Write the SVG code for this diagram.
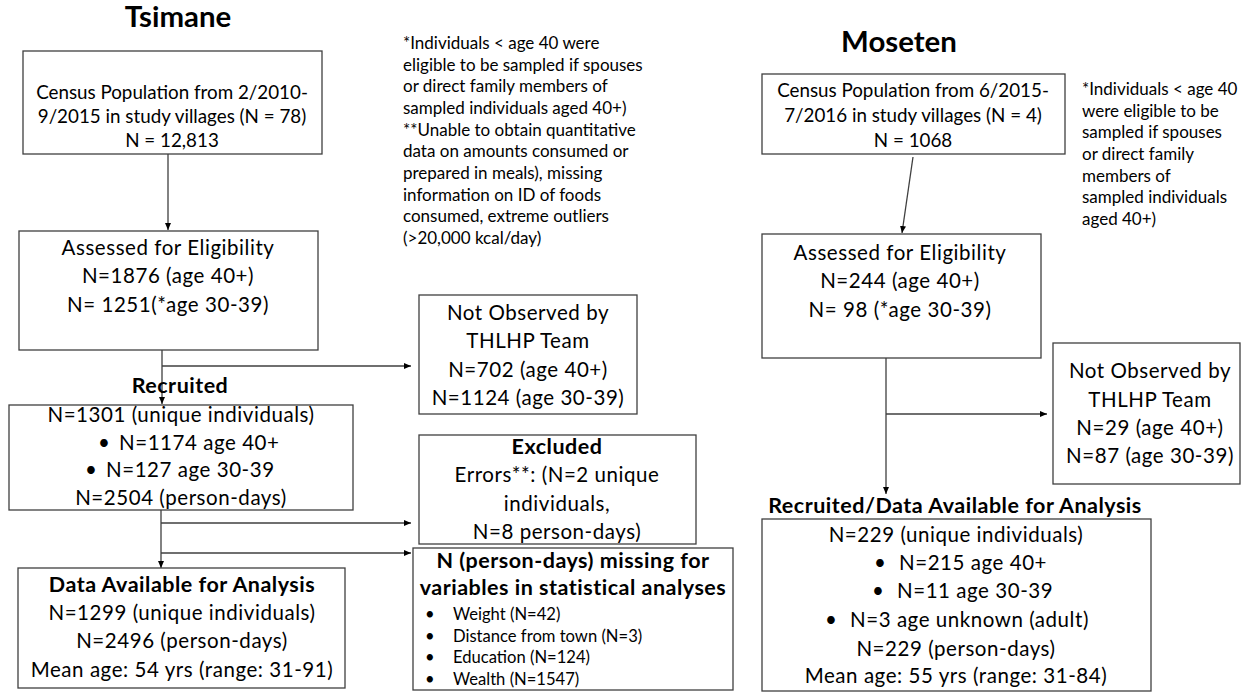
<svg xmlns="http://www.w3.org/2000/svg" width="1243" height="692" viewBox="0 0 1243 692">
<style>
.box{fill:#fff;stroke:#3f3f3f;stroke-width:1.3}
.t{font-family:Lato,"Liberation Sans",sans-serif;font-size:20.5px;letter-spacing:0.55px;fill:#000;text-anchor:middle}
.cs{font-family:Lato,"Liberation Sans",sans-serif;font-size:18.8px;fill:#000;text-anchor:middle}
.b{font-weight:bold;font-size:21.5px;letter-spacing:0.5px}
.st{text-anchor:start}
.h{font-family:Lato,"Liberation Sans",sans-serif;font-size:29.4px;font-weight:bold;fill:#000;text-anchor:middle}
.n{font-family:Lato,"Liberation Sans",sans-serif;font-size:17px;fill:#000}
.s{font-family:Lato,"Liberation Sans",sans-serif;font-size:16.6px;fill:#000}
.c{fill:none;stroke:#3f3f3f;stroke-width:1.3}
</style>
<defs>
<marker id="ah" markerWidth="8" markerHeight="8" refX="7" refY="4" orient="auto" markerUnits="userSpaceOnUse">
<path d="M0,1 L7,4 L0,7 Z" fill="#000"/>
</marker>
</defs>
<rect width="1243" height="692" fill="#fff"/>

<text class="h" x="178" y="27">Tsimane</text>
<text class="h" x="899" y="52">Moseten</text>

<g id="notes-left">
<text class="n" x="403" y="49">*Individuals &lt; age 40 were</text>
<text class="n" x="403" y="71">eligible to be sampled if spouses</text>
<text class="n" x="403" y="92">or direct family members of</text>
<text class="n" x="403" y="114">sampled individuals aged 40+)</text>
<text class="n" x="403" y="136">**Unable to obtain quantitative</text>
<text class="n" x="403" y="157">data on amounts consumed or</text>
<text class="n" x="403" y="179">prepared in meals), missing</text>
<text class="n" x="403" y="201">information on ID of foods</text>
<text class="n" x="403" y="222">consumed, extreme outliers</text>
<text class="n" x="403" y="244">(&gt;20,000 kcal/day)</text>
</g>

<g id="notes-right">
<text class="n" x="1082" y="95">*Individuals &lt; age 40</text>
<text class="n" x="1082" y="117">were eligible to be</text>
<text class="n" x="1082" y="138">sampled if spouses</text>
<text class="n" x="1082" y="160">or direct family</text>
<text class="n" x="1082" y="182">members of</text>
<text class="n" x="1082" y="203">sampled individuals</text>
<text class="n" x="1082" y="225">aged 40+)</text>
</g>

<g id="connectors">
<line class="c" x1="168" y1="154" x2="168" y2="230" marker-end="url(#ah)"/>
<line class="c" x1="162" y1="350" x2="162" y2="404" marker-end="url(#ah)"/>
<line class="c" x1="162" y1="366" x2="411" y2="366" marker-end="url(#ah)"/>
<line class="c" x1="161" y1="510" x2="161" y2="568" marker-end="url(#ah)"/>
<line class="c" x1="161" y1="523" x2="411" y2="523" marker-end="url(#ah)"/>
<line class="c" x1="161" y1="553" x2="411" y2="553" marker-end="url(#ah)"/>
<line class="c" x1="913" y1="157" x2="902" y2="233" marker-end="url(#ah)"/>
<line class="c" x1="886" y1="358" x2="886" y2="494" marker-end="url(#ah)"/>
<line class="c" x1="886" y1="414" x2="1047" y2="414" marker-end="url(#ah)"/>
</g>

<g id="census-tsimane">
<rect class="box" x="23" y="51" width="299" height="103"/>
<text class="cs" x="172" y="99">Census Population from 2/2010-</text>
<text class="cs" x="172" y="123">9/2015 in study villages (N = 78)</text>
<text class="cs" x="172" y="147">N = 12,813</text>
</g>

<g id="assessed-tsimane">
<rect class="box" x="19" y="231" width="299" height="119"/>
<text class="t" x="168" y="255">Assessed for Eligibility</text>
<text class="t" x="168" y="283">N=1876 (age 40+)</text>
<text class="t" x="168" y="312">N= 1251(*age 30-39)</text>
</g>

<g id="notobs-tsimane">
<rect class="box" x="419" y="295" width="218" height="119"/>
<text class="t" x="528" y="320">Not Observed by</text>
<text class="t" x="528" y="348">THLHP Team</text>
<text class="t" x="528" y="377">N=702 (age 40+)</text>
<text class="t" x="528" y="405">N=1124 (age 30-39)</text>
</g>

<g id="recruited-tsimane">
<text class="t b" x="180" y="393">Recruited</text>
<rect class="box" x="9" y="405" width="344" height="105"/>
<text class="t" x="181" y="422">N=1301 (unique individuals)</text>
<text class="t st" x="98" y="450">•</text>
<text class="t st" x="119" y="450">N=1174 age 40+</text>
<text class="t st" x="85" y="477">•</text>
<text class="t st" x="106" y="477">N=127 age 30-39</text>
<text class="t" x="181" y="505">N=2504 (person-days)</text>
</g>

<g id="excluded-tsimane">
<rect class="box" x="419" y="435" width="277" height="109"/>
<text class="t b" x="557" y="454">Excluded</text>
<text class="t" x="557" y="482">Errors**: (N=2 unique</text>
<text class="t" x="557" y="511">individuals,</text>
<text class="t" x="557" y="539">N=8 person-days)</text>
</g>

<g id="missing-tsimane">
<rect class="box" x="413" y="548" width="320" height="142"/>
<text class="t b" x="573" y="568">N (person-days) missing for</text>
<text class="t b" x="573" y="595">variables in statistical analyses</text>
<text class="s" x="425" y="620">•</text>
<text class="s" x="453" y="620">Weight (N=42)</text>
<text class="s" x="425" y="642">•</text>
<text class="s" x="453" y="642">Distance from town (N=3)</text>
<text class="s" x="425" y="663">•</text>
<text class="s" x="453" y="663">Education (N=124)</text>
<text class="s" x="425" y="685">•</text>
<text class="s" x="453" y="685">Wealth (N=1547)</text>
</g>

<g id="data-tsimane">
<rect class="box" x="18" y="568" width="327" height="120"/>
<text class="t b" x="182" y="592">Data Available for Analysis</text>
<text class="t" x="182" y="620">N=1299 (unique individuals)</text>
<text class="t" x="182" y="648">N=2496 (person-days)</text>
<text class="t" x="182" y="677">Mean age: 54 yrs (range: 31-91)</text>
</g>

<g id="census-moseten">
<rect class="box" x="762" y="74" width="303" height="80"/>
<text class="cs" x="913" y="97">Census Population from 6/2015-</text>
<text class="cs" x="913" y="122">7/2016 in study villages (N = 4)</text>
<text class="cs" x="913" y="147">N = 1068</text>
</g>

<g id="assessed-moseten">
<rect class="box" x="762" y="234" width="279" height="124"/>
<text class="t" x="900" y="260">Assessed for Eligibility</text>
<text class="t" x="900" y="288">N=244 (age 40+)</text>
<text class="t" x="900" y="317">N= 98 (*age 30-39)</text>
</g>

<g id="notobs-moseten">
<rect class="box" x="1053" y="343" width="187" height="141"/>
<text class="t" x="1150" y="378">Not Observed by</text>
<text class="t" x="1150" y="407">THLHP Team</text>
<text class="t" x="1150" y="435">N=29 (age 40+)</text>
<text class="t" x="1150" y="463">N=87 (age 30-39)</text>
</g>

<g id="data-moseten">
<text class="t b" x="955" y="513">Recruited/Data Available for Analysis</text>
<rect class="box" x="762" y="519" width="389" height="172"/>
<text class="t" x="956" y="542">N=229 (unique individuals)</text>
<text class="t st" x="874" y="570">•</text>
<text class="t st" x="899" y="570">N=215 age 40+</text>
<text class="t st" x="872" y="598">•</text>
<text class="t st" x="897" y="598">N=11 age 30-39</text>
<text class="t st" x="825" y="627">•</text>
<text class="t st" x="850" y="627">N=3 age unknown (adult)</text>
<text class="t" x="956" y="656">N=229 (person-days)</text>
<text class="t" x="956" y="683">Mean age: 55 yrs (range: 31-84)</text>
</g>
</svg>
